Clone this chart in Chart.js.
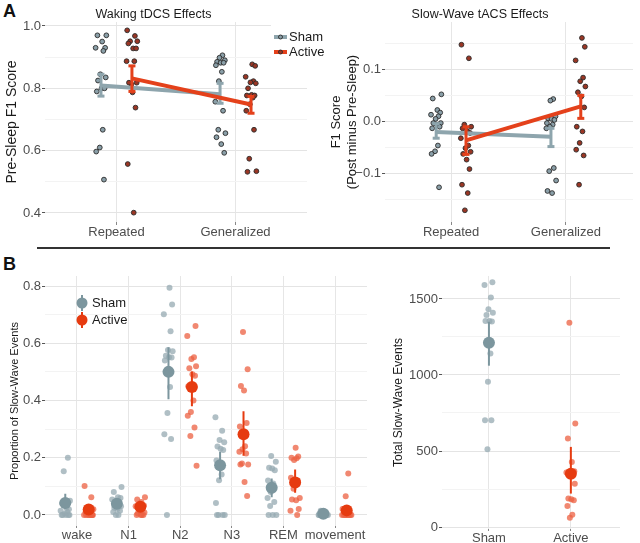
<!DOCTYPE html>
<html>
<head>
<meta charset="utf-8">
<script src="https://cdn.jsdelivr.net/npm/chart.js@4.4.0/dist/chart.umd.min.js"></script>
<style>
  body { margin: 0; background: #fff; width: 640px; height: 543px; position: relative; overflow: hidden; font-family: "Liberation Sans", Arial, sans-serif; }
  .box { position: absolute; }
  .tag { position: absolute; font-weight: bold; font-size: 18px; color: #111; }
  #sep { position: absolute; left: 37px; top: 247px; width: 573px; height: 1.5px; background: #333; }
</style>
</head>
<body>
<div class="tag" style="left:3px;top:1px">A</div>
<div class="tag" style="left:3px;top:254px">B</div>
<div id="sep"></div>
<div class="box" style="left:0;top:0;width:330px;height:245px"><canvas id="wake"></canvas></div>
<div class="box" style="left:320px;top:0;width:320px;height:245px"><canvas id="slow"></canvas></div>
<div class="box" style="left:0;top:262px;width:380px;height:281px"><canvas id="prop"></canvas></div>
<div class="box" style="left:380px;top:262px;width:260px;height:281px"><canvas id="total"></canvas></div>
<script>
// ---- data ----
var testCats = ['Repeated', 'Generalized'];
var stages = ['wake', 'N1', 'N2', 'N3', 'REM', 'movement'];
var groups = ['Sham', 'Active'];

// waking tDCS: pre-sleep F1 score per subject
var wakeShamRep = [0.97, 0.97, 0.95, 0.93, 0.93, 0.92, 0.845, 0.835, 0.825, 0.80, 0.80, 0.79, 0.667, 0.61, 0.597, 0.507];
var wakeShamGen = [0.906, 0.898, 0.89, 0.885, 0.882, 0.882, 0.874, 0.853, 0.823, 0.757, 0.728, 0.667, 0.656, 0.643, 0.621, 0.593];
var wakeActRep = [0.986, 0.968, 0.951, 0.951, 0.944, 0.928, 0.928, 0.887, 0.887, 0.813, 0.818, 0.818, 0.787, 0.738, 0.557, 0.401];
var wakeActGen = [0.877, 0.872, 0.837, 0.823, 0.819, 0.816, 0.8, 0.779, 0.777, 0.777, 0.77, 0.749, 0.728, 0.667, 0.574, 0.534, 0.532];
var wakeShamMean = [0.809, 0.781], wakeShamLo = [0.775, 0.752], wakeShamHi = [0.845, 0.816];
var wakeActMean = [0.832, 0.748], wakeActLo = [0.79, 0.72], wakeActHi = [0.872, 0.774];

// slow-wave tACS: F1 change (post minus pre)
var swShamRep = [0.052, 0.044, 0.022, 0.017, 0.013, 0.010, 0.005, -0.003, -0.003, -0.006, -0.010, -0.013, -0.046, -0.057, -0.062, -0.126];
var swShamGen = [0.043, 0.040, 0.010, 0.006, 0.005, 0.003, -0.003, -0.006, -0.010, -0.013, -0.089, -0.095, -0.113, -0.133, -0.137];
var swActRep = [0.147, 0.121, -0.006, -0.010, -0.013, -0.018, -0.022, -0.032, -0.046, -0.051, -0.058, -0.062, -0.073, -0.091, -0.121, -0.137, -0.170];
var swActGen = [0.160, 0.143, 0.117, 0.084, 0.077, 0.067, 0.056, 0.048, 0.027, -0.010, -0.019, -0.041, -0.054, -0.065, -0.121];
var swShamMean = [-0.02, -0.029], swShamLo = [-0.032, -0.048], swShamHi = [-0.004, -0.013];
var swActMean = [-0.036, 0.029], swActLo = [-0.063, 0.006], swActHi = [-0.01, 0.05];

// proportion of slow-wave events by sleep stage
var propSham = [
  [0.2, 0.153, 0.05, 0.04, 0.025, 0.02, 0.015, 0.01, 0.005, 0, 0, 0, 0, 0],
  [0.098, 0.08, 0.062, 0.059, 0.054, 0.045, 0.033, 0.03, 0.025, 0.021, 0.015, 0.01, 0, 0],
  [0.794, 0.735, 0.701, 0.642, 0.576, 0.572, 0.556, 0.551, 0.55, 0.54, 0.447, 0.356, 0.282, 0.265, 0],
  [0.341, 0.294, 0.262, 0.254, 0.239, 0.231, 0.227, 0.19, 0.141, 0.121, 0.042, 0, 0, 0, 0],
  [0.206, 0.186, 0.165, 0.162, 0.156, 0.12, 0.11, 0.08, 0.059, 0.045, 0.031, 0, 0, 0],
  [0.015, 0.01, 0.008, 0.005, 0.003, 0.002, 0, 0, 0, 0, 0, 0, 0, 0]
];
var propActive = [
  [0.101, 0.062, 0.025, 0.02, 0.01, 0.005, 0, 0, 0, 0, 0, 0, 0, 0],
  [0.062, 0.054, 0.045, 0.033, 0.03, 0.021, 0.015, 0.009, 0.005, 0, 0, 0, 0],
  [0.66, 0.625, 0.551, 0.545, 0.52, 0.513, 0.492, 0.486, 0.45, 0.4, 0.36, 0.347, 0.306, 0.276, 0.172],
  [0.639, 0.509, 0.451, 0.435, 0.321, 0.309, 0.24, 0.23, 0.221, 0.215, 0.18, 0.176, 0.176, 0.115, 0.066],
  [0.235, 0.204, 0.2, 0.198, 0.192, 0.13, 0.12, 0.092, 0.059, 0.054, 0.051, 0.021, 0.015, 0],
  [0.145, 0.065, 0.021, 0.009, 0, 0, 0, 0, 0, 0, 0, 0]
];
var propShamMean = [0.042, 0.039, 0.5, 0.174, 0.095, 0.004];
var propShamLo = [0.021, 0.022, 0.404, 0.125, 0.062, 0.0];
var propShamHi = [0.074, 0.058, 0.586, 0.221, 0.127, 0.008];
var propActMean = [0.019, 0.029, 0.447, 0.282, 0.113, 0.016];
var propActLo = [0.006, 0.012, 0.38, 0.207, 0.078, 0.003];
var propActHi = [0.034, 0.047, 0.501, 0.362, 0.159, 0.035];

// total slow-wave events per subject
var totalSham = [1610, 1592, 1509, 1432, 1410, 1395, 1355, 1351, 1355, 1142, 955, 703, 703, 512];
var totalActive = [1344, 681, 582, 428, 367, 358, 340, 336, 285, 187, 182, 176, 138, 81, 61];
var totalMean = [1212, 351], totalLo = [1061, 220], totalHi = [1350, 527];

// fixed horizontal jitter pattern (fraction of jitter width)
var jitter = [-0.8, 0.5, -0.3, 0.9, -0.6, 0.2, 0.7, -0.9, 0.4, -0.1, 0.8, -0.5, 0.1, 0.6, -0.7, 0.3, -0.2];

// ---- colours ----
var SHAM_LINE = '#8ea5ad', ACT_LINE = '#e4411b';
var SHAM_PT = '#8a9fa8', ACT_PT = '#9a3624';
var SHAM_DOT = 'rgba(150,170,178,0.75)', ACT_DOT = 'rgba(236,96,66,0.75)';
var SHAM_MEAN = '#7c969e', ACT_MEAN = '#e63b10';
var FONT = '"Liberation Sans", Arial, sans-serif';

Chart.defaults.font.family = FONT;
Chart.defaults.color = '#4d4d4d';
Chart.defaults.animation = false;
Chart.defaults.responsive = true;
Chart.defaults.maintainAspectRatio = false;
Chart.defaults.plugins.legend.display = false;
Chart.defaults.plugins.tooltip.enabled = false;

function spread(vals, x, w, shift) {
  return vals.map(function(v, i) { return {x: x + jitter[(i + shift) % jitter.length] * w, y: v}; });
}
function bars(xs, lo, hi) {
  var out = [];
  xs.forEach(function(x, i) { out.push({x: x, y: lo[i]}, {x: x, y: hi[i]}, {x: x, y: null}); });
  return out;
}
function pts(xs, ys) {
  return xs.map(function(x, i) { return {x: x, y: ys[i]}; });
}
function offs(n, d) {
  var a = [];
  for (var i = 0; i < n; i++) a.push(i + 1 + d);
  return a;
}

function yScale(o) {
  var tickVal = function(c) { return c.tick ? c.tick.value : 0; };
  return {
    type: 'linear', min: o.min, max: o.max,
    afterFit: function(s) { s.width = o.width; },
    ticks: { stepSize: o.step, includeBounds: false, autoSkip: false, color: '#4d4d4d', font: {size: 13}, padding: 1,
      callback: function(v) { return o.major(v) ? o.fmt(v) : ''; } },
    grid: { drawTicks: true, tickLength: 3, tickWidth: 1,
      color: function(c) { return o.major(tickVal(c)) ? '#e4e4e4' : '#f3f3f3'; },
      tickColor: function(c) { return o.major(tickVal(c)) ? '#555' : 'rgba(0,0,0,0)'; } },
    border: {display: false},
    title: {display: true, text: o.title, color: '#1a1a1a', font: {size: o.titleSize}, padding: {top: o.titlePad, bottom: 0}}
  };
}
function xScale(o) {
  return {
    type: 'linear', min: o.min, max: o.max,
    afterBuildTicks: function(s) { s.ticks = o.cats.map(function(c, i) { return {value: i + 1}; }); },
    afterFit: function(s) { s.height = o.height; },
    ticks: { autoSkip: false, maxRotation: 0, color: '#4d4d4d', font: {size: 13}, padding: 0,
      callback: function(v) { return o.cats[Math.round(v) - 1]; } },
    grid: { color: '#e6e6e6', drawTicks: true, tickLength: o.tick, tickColor: '#888' },
    border: {display: false}
  };
}

function panelA(sr, sg, ar, ag, sm, slo, shi, am, alo, ahi, jw) {
  var d = 0.13;
  var sx = offs(2, -d), ax = offs(2, d);
  var ptStyle = function(fill) { return {pointRadius: 2.4, pointBackgroundColor: fill, pointBorderColor: '#2a2a2a', pointBorderWidth: 0.9, showLine: false}; };
  return [
    {type: 'line', data: bars(ax, alo, ahi), borderColor: ACT_LINE, borderWidth: 3, pointStyle: 'line', pointRadius: 3.5, pointBorderColor: ACT_LINE, pointBorderWidth: 3, spanGaps: false},
    {type: 'line', data: pts(ax, am), borderColor: ACT_LINE, borderWidth: 4, pointRadius: 0},
    {type: 'line', data: bars(sx, slo, shi), borderColor: SHAM_LINE, borderWidth: 3, pointStyle: 'line', pointRadius: 3.5, pointBorderColor: SHAM_LINE, pointBorderWidth: 3, spanGaps: false},
    {type: 'line', data: pts(sx, sm), borderColor: SHAM_LINE, borderWidth: 4, pointRadius: 0},
    Object.assign({type: 'scatter', data: spread(ar, 1 + d, jw, 0).concat(spread(ag, 2 + d, jw, 5))}, ptStyle(ACT_PT)),
    Object.assign({type: 'scatter', data: spread(sr, 1 - d, jw, 3).concat(spread(sg, 2 - d, jw, 8))}, ptStyle(SHAM_PT))
  ];
}

var legendA = {
  id: 'legendA',
  afterDraw: function(chart) {
    var c = chart.ctx;
    c.save();
    c.fillStyle = '#fff';
    c.fillRect(271, 25, 59, 38);
    [['Sham', SHAM_LINE, SHAM_PT, 37], ['Active', ACT_LINE, ACT_PT, 52]].forEach(function(k) {
      c.strokeStyle = k[1]; c.lineWidth = 4;
      c.beginPath(); c.moveTo(274, k[3]); c.lineTo(287, k[3]); c.stroke();
      c.beginPath(); c.arc(280.5, k[3], 2, 0, Math.PI * 2);
      c.fillStyle = k[2]; c.fill(); c.lineWidth = 0.9; c.strokeStyle = '#2a2a2a'; c.stroke();
      c.fillStyle = '#1a1a1a'; c.font = '13px ' + FONT; c.textBaseline = 'middle';
      c.fillText(k[0], 289, k[3]);
    });
    c.restore();
  }
};

var legendB = {
  id: 'legendB',
  afterDraw: function(chart) {
    var c = chart.ctx;
    c.save();
    [['Sham', SHAM_MEAN, 41], ['Active', ACT_MEAN, 58]].forEach(function(k) {
      c.strokeStyle = k[1]; c.lineWidth = 2;
      c.beginPath(); c.moveTo(82, k[2] - 8); c.lineTo(82, k[2] + 8); c.stroke();
      c.beginPath(); c.arc(82, k[2], 5.5, 0, Math.PI * 2); c.fillStyle = k[1]; c.fill();
      c.fillStyle = '#1a1a1a'; c.font = '13px ' + FONT; c.textBaseline = 'middle';
      c.fillText(k[0], 92, k[2]);
    });
    c.restore();
  }
};

// ---- A left: waking tDCS ----
new Chart(document.getElementById('wake'), {
  type: 'scatter',
  data: {datasets: panelA(wakeShamRep, wakeShamGen, wakeActRep, wakeActGen, wakeShamMean, wakeShamLo, wakeShamHi, wakeActMean, wakeActLo, wakeActHi, 0.05)},
  options: {
    layout: {padding: {left: 0, right: 23, top: 0, bottom: 0}},
    plugins: {title: {display: true, text: 'Waking tDCS Effects', color: '#1a1a1a', font: {size: 12.5, weight: 'normal'}, padding: {top: 7, bottom: 0}}},
    scales: {
      x: xScale({min: 0.4, max: 2.6, cats: testCats, height: 23, tick: 3}),
      y: yScale({min: 0.371, max: 1.0128, step: 0.1, width: 45, title: 'Pre-Sleep F1 Score', titleSize: 14, titlePad: 4,
        major: function(v) { return Math.round(v * 10) % 2 === 0; }, fmt: function(v) { return v.toFixed(1); }})
    }
  },
  plugins: [legendA]
});

// ---- A right: slow-wave tACS ----
new Chart(document.getElementById('slow'), {
  type: 'scatter',
  data: {datasets: panelA(swShamRep, swShamGen, swActRep, swActGen, swShamMean, swShamLo, swShamHi, swActMean, swActLo, swActHi, 0.05)},
  options: {
    layout: {padding: 0},
    plugins: {title: {display: true, text: 'Slow-Wave tACS Effects', color: '#1a1a1a', font: {size: 12.5, weight: 'normal'}, padding: {top: 7, bottom: 0}}},
    scales: {
      x: xScale({min: 0.424, max: 2.585, cats: testCats, height: 23, tick: 3}),
      y: yScale({min: -0.1924, max: 0.1905, step: 0.05, width: 65, title: ['F1 Score', '(Post minus Pre-Sleep)'], titleSize: 13, titlePad: 9,
        major: function(v) { return Math.abs(Math.round(v * 20)) % 2 === 0; },
        fmt: function(v) { return v.toFixed(1).replace('-', '\u2212'); }})
    }
  }
});

// ---- B left: proportion per stage ----
var bd = 0.227;
var propData = [];
propActive.forEach(function(vals, i) { propData = propData.concat(spread(vals, i + 1 + bd, 0.1, i * 3)); });
var propShamData = [];
propSham.forEach(function(vals, i) { propShamData = propShamData.concat(spread(vals, i + 1 - bd, 0.1, i * 2 + 1)); });

new Chart(document.getElementById('prop'), {
  type: 'scatter',
  data: {datasets: [
    {type: 'scatter', data: pts(offs(6, bd), propActMean), pointRadius: 6, pointBackgroundColor: ACT_MEAN, pointBorderWidth: 0},
    {type: 'scatter', data: pts(offs(6, -bd), propShamMean), pointRadius: 6, pointBackgroundColor: SHAM_MEAN, pointBorderWidth: 0},
    {type: 'line', data: bars(offs(6, bd), propActLo, propActHi), borderColor: ACT_MEAN, borderWidth: 2, pointRadius: 0, spanGaps: false},
    {type: 'line', data: bars(offs(6, -bd), propShamLo, propShamHi), borderColor: SHAM_MEAN, borderWidth: 2, pointRadius: 0, spanGaps: false},
    {type: 'scatter', data: propData, pointRadius: 3, pointBackgroundColor: ACT_DOT, pointBorderWidth: 0},
    {type: 'scatter', data: propShamData, pointRadius: 3, pointBackgroundColor: SHAM_DOT, pointBorderWidth: 0}
  ]},
  options: {
    layout: {padding: {left: 0, right: 13, top: 14, bottom: 0}},
    scales: {
      x: xScale({min: 0.38, max: 6.62, cats: stages, height: 17, tick: 2}),
      y: yScale({min: -0.0386, max: 0.835, step: 0.1, width: 45, title: 'Proportion of Slow-Wave Events', titleSize: 11, titlePad: 8,
        major: function(v) { return Math.round(v * 10) % 2 === 0; }, fmt: function(v) { return v.toFixed(1); }})
    }
  },
  plugins: [legendB]
});

// ---- B right: total events ----
new Chart(document.getElementById('total'), {
  type: 'scatter',
  data: {datasets: [
    {type: 'scatter', data: pts([1, 2], totalMean), pointRadius: 6, pointBackgroundColor: [SHAM_MEAN, ACT_MEAN], pointBorderWidth: 0},
    {type: 'line', data: bars([2], [totalLo[1]], [totalHi[1]]), borderColor: ACT_MEAN, borderWidth: 2, pointRadius: 0, spanGaps: false},
    {type: 'line', data: bars([1], [totalLo[0]], [totalHi[0]]), borderColor: SHAM_MEAN, borderWidth: 2, pointRadius: 0, spanGaps: false},
    {type: 'scatter', data: spread(totalActive, 2, 0.06, 2), pointRadius: 3, pointBackgroundColor: ACT_DOT, pointBorderWidth: 0},
    {type: 'scatter', data: spread(totalSham, 1, 0.06, 6), pointRadius: 3, pointBackgroundColor: SHAM_DOT, pointBorderWidth: 0}
  ]},
  options: {
    layout: {padding: {left: 0, right: 20, top: 14, bottom: 0}},
    scales: {
      x: xScale({min: 0.427, max: 2.6, cats: groups, height: 14, tick: 2}),
      y: yScale({min: -13, max: 1651, step: 250, width: 62, title: 'Total Slow-Wave Events', titleSize: 12, titlePad: 11,
        major: function(v) { return Math.round(v) % 500 === 0; }, fmt: function(v) { return String(v); }})
    }
  }
});
</script>
</body>
</html>
